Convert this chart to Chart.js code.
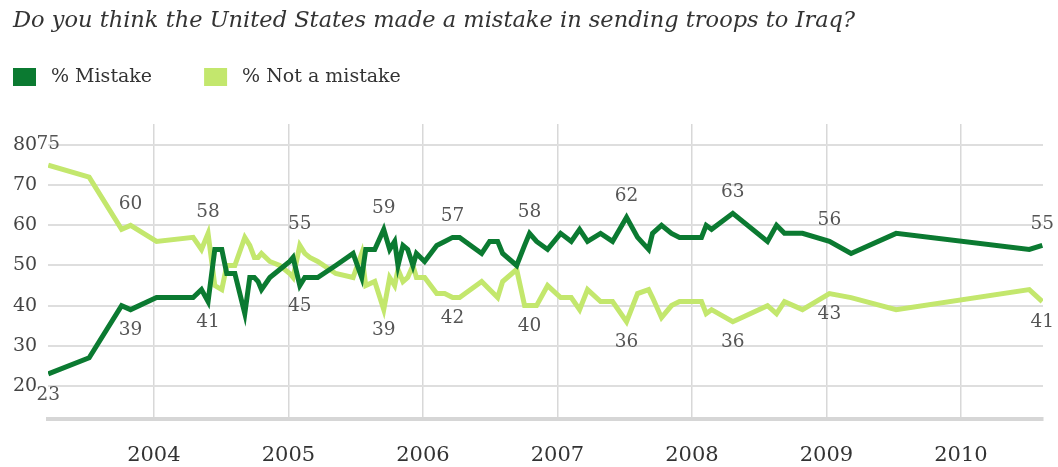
<!DOCTYPE html>
<html>
<head>
<meta charset="utf-8">
<title>Iraq war: mistake or not</title>
<script src="https://cdn.jsdelivr.net/npm/chart.js@4.4.1/dist/chart.umd.min.js"></script>
<style>
  html, body { margin: 0; padding: 0; background: #fff; }
  canvas { display: block; }
</style>
</head>
<body>
<canvas id="chart" width="1058" height="467"></canvas>
<script>
// Survey dates as decimal years
const surveyDates = [
  2003.215, 2003.519, 2003.760, 2003.827, 2004.020, 2004.292, 2004.354, 2004.403,
  2004.453, 2004.505, 2004.542, 2004.602, 2004.676, 2004.713, 2004.747, 2004.775,
  2004.800, 2004.862, 2004.936, 2005.010, 2005.035, 2005.085, 2005.122, 2005.159,
  2005.218, 2005.352, 2005.481, 2005.545, 2005.575, 2005.642, 2005.709, 2005.753,
  2005.790, 2005.815, 2005.852, 2005.887, 2005.926, 2005.952, 2006.013, 2006.103,
  2006.162, 2006.221, 2006.273, 2006.437, 2006.496, 2006.556, 2006.593, 2006.697,
  2006.756, 2006.793, 2006.845, 2006.927, 2007.024, 2007.103, 2007.165, 2007.224,
  2007.321, 2007.410, 2007.514, 2007.596, 2007.678, 2007.707, 2007.774, 2007.848,
  2007.908, 2008.071, 2008.106, 2008.146, 2008.304, 2008.562, 2008.629, 2008.688,
  2008.822, 2009.022, 2009.183, 2009.518, 2010.508, 2010.605
];
const mistake = [
  23, 27, 40, 39, 42, 42, 44, 41,
  54, 54, 48, 48, 38, 47, 47, 46,
  44, 47, 49, 51, 52, 45, 47, 47,
  47, 50, 53, 47, 54, 54, 59, 54,
  56, 50, 55, 54, 50, 53, 51, 55,
  56, 57, 57, 53, 56, 56, 53, 50,
  55, 58, 56, 54, 58, 56, 59, 56,
  58, 56, 62, 57, 54, 58, 60, 58,
  57, 57, 60, 59, 63, 56, 60, 58,
  58, 56, 53, 58, 54, 55
];
const notMistake = [
  75, 72, 59, 60, 56, 57, 54, 58,
  45, 44, 50, 50, 57, 55, 52, 52,
  53, 51, 50, 48, 47, 55, 53, 52,
  51, 48, 47, 53, 45, 46, 39, 47,
  45, 49, 46, 47, 50, 47, 47, 43,
  43, 42, 42, 46, 44, 42, 46, 49,
  40, 40, 40, 45, 42, 42, 39, 44,
  41, 41, 36, 43, 44, 42, 37, 40,
  41, 41, 38, 39, 36, 40, 38, 41,
  39, 43, 42, 39, 44, 41
];
// surveys whose numbers are printed on the chart
const labelledPoints = [0, 3, 7, 21, 30, 41, 49, 58, 68, 73, 77];

const yearTicks = [2004, 2005, 2006, 2007, 2008, 2009, 2010];
const percentTicks = [20, 30, 40, 50, 60, 70, 80];
const seriesNames = ['% Mistake', '% Not a mistake'];
const titleText = 'Do you think the United States made a mistake in sending troops to Iraq?';

const DARK = '#0b7a31';
const LIGHT = '#c3e76d';
const SERIF = '"DejaVu Serif", Georgia, serif';

// numbers above the higher line and below the lower one
const valueLabels = {
  id: 'valueLabels',
  afterDatasetsDraw(chart) {
    const ctx = chart.ctx;
    const dark = chart.getDatasetMeta(0).data;
    const light = chart.getDatasetMeta(1).data;
    ctx.save();
    ctx.font = '18.5px ' + SERIF;
    ctx.fillStyle = '#555';
    ctx.textAlign = 'center';
    ctx.textBaseline = 'middle';
    labelledPoints.forEach(i => {
      const darkOnTop = mistake[i] >= notMistake[i];
      ctx.fillText(mistake[i], dark[i].x, dark[i].y + (darkOnTop ? -21 : 21));
      ctx.fillText(notMistake[i], light[i].x, light[i].y + (darkOnTop ? 21 : -21));
    });
    ctx.restore();
  }
};

// legend row under the title
const topLegend = {
  id: 'topLegend',
  afterDraw(chart) {
    const ctx = chart.ctx;
    const y = 77;
    let x = 13;
    ctx.save();
    ctx.font = '19px ' + SERIF;
    ctx.textBaseline = 'middle';
    chart.data.datasets.forEach(ds => {
      ctx.fillStyle = ds.borderColor;
      ctx.fillRect(x, y - 9, 23, 18);
      x += 23 + 15;
      ctx.fillStyle = '#333';
      ctx.fillText(ds.label, x, y);
      x += ctx.measureText(ds.label).width + 52;
    });
    ctx.restore();
  }
};

const points = values => surveyDates.map((d, i) => ({ x: d, y: values[i] }));

new Chart(document.getElementById('chart'), {
  type: 'line',
  data: {
    datasets: [
      { label: seriesNames[0], data: points(mistake), borderColor: DARK, backgroundColor: DARK },
      { label: seriesNames[1], data: points(notMistake), borderColor: LIGHT, backgroundColor: LIGHT }
    ]
  },
  options: {
    responsive: false,
    animation: false,
    devicePixelRatio: 1,
    layout: { padding: { left: 13, right: 15, top: 0, bottom: 4 } },
    elements: {
      point: { radius: 0, hoverRadius: 0 },
      line: { borderWidth: 5, tension: 0, borderJoinStyle: 'miter', fill: false }
    },
    plugins: {
      legend: { display: false },
      tooltip: { enabled: false },
      title: {
        display: true,
        text: titleText,
        align: 'start',
        color: '#333',
        font: { family: SERIF, size: 22.5, style: 'italic', weight: 'normal' },
        padding: { top: 8, bottom: 89 }
      }
    },
    scales: {
      x: {
        type: 'linear',
        min: 2003.213,
        max: 2010.61,
        afterBuildTicks: s => { s.ticks = yearTicks.map(v => ({ value: v })); },
        afterFit: s => { s.height = 44; },
        grid: { color: '#d8d8d8', lineWidth: 1.5, drawTicks: false },
        border: { color: '#d6d6d6', width: 4 },
        ticks: {
          padding: 24,
          color: '#333',
          font: { family: SERIF, size: 21 },
          callback: v => String(v)
        }
      },
      y: {
        min: 11.75,
        max: 85.25,
        afterBuildTicks: s => { s.ticks = percentTicks.map(v => ({ value: v })); },
        afterFit: s => { s.width = 35; },
        grid: { color: '#dedede', lineWidth: 2, drawTicks: false },
        border: { display: false },
        ticks: {
          crossAlign: 'far',
          padding: 0,
          color: '#444',
          font: { family: SERIF, size: 19 }
        }
      }
    }
  },
  plugins: [valueLabels, topLegend]
});
</script>
</body>
</html>
